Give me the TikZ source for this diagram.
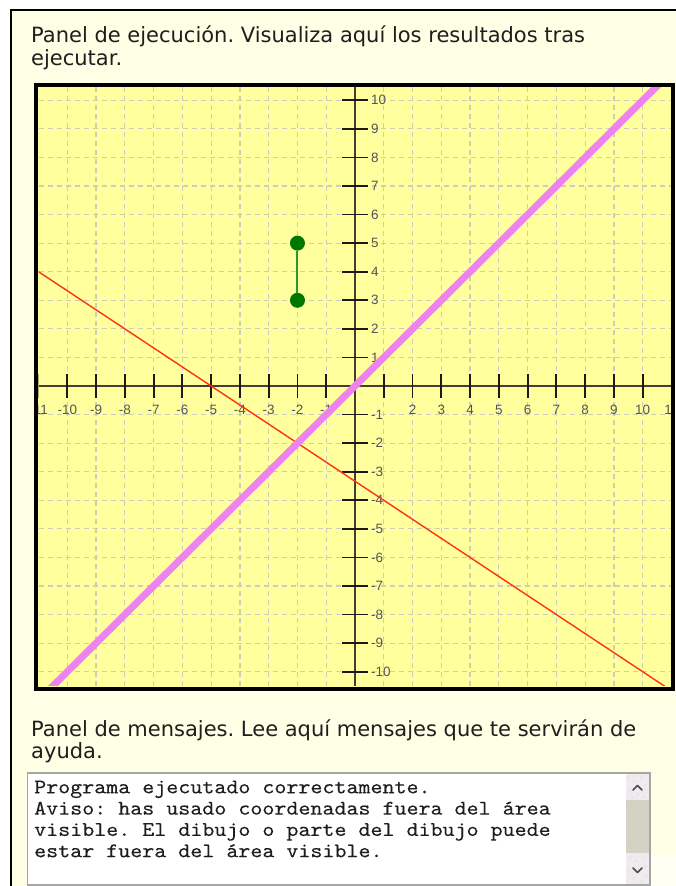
\documentclass[tikz,border=0pt]{standalone}
\usepackage{fontspec}
\setmainfont{DejaVu Sans}
\newfontfamily\axfont{Liberation Sans}
\newfontfamily\msgfont[FakeStretch=1.1,FakeBold=0.12]{lmmono10-regular.otf}
\frenchspacing
\definecolor{cream}{RGB}{255,255,230}
\definecolor{creamlight}{RGB}{255,255,242}
\definecolor{plotbg}{RGB}{255,255,158}
\definecolor{gridc}{RGB}{205,205,190}
\definecolor{axisc}{RGB}{70,62,50}
\definecolor{tickc}{RGB}{30,25,20}
\definecolor{labc}{RGB}{85,85,85}
\definecolor{redc}{RGB}{255,50,20}
\definecolor{pinkc}{RGB}{238,130,238}
\definecolor{greenl}{RGB}{45,150,45}
\definecolor{greend}{RGB}{0,120,0}
\definecolor{txtc}{RGB}{30,30,30}
\definecolor{boxc}{RGB}{165,165,165}
\definecolor{btnc}{RGB}{240,234,238}
\definecolor{thumbc}{RGB}{211,211,196}
\tikzset{
  headtxt/.style={anchor=base west, inner sep=0pt, text=txtc, font=\fontsize{21}{22.7}\selectfont},
  msgtxt/.style={anchor=base west, inner sep=0pt, text=txtc, font=\msgfont\fontsize{20.8}{21.3}\selectfont},
  gridline/.style={draw=gridc, line width=1.2pt, dash pattern=on 5pt off 4pt},
  axisline/.style={draw=axisc, line width=1.8pt},
  tickline/.style={draw=tickc, line width=1.8pt},
  xlab/.style={inner sep=0pt, text=labc, font=\axfont\fontsize{13.5}{14}\selectfont},
  ylab/.style={inner sep=0pt, anchor=west, text=labc, font=\axfont\fontsize{13.5}{14}\selectfont},
  redline/.style={draw=redc, line width=1.4pt},
  pinkline/.style={draw=pinkc, line width=7pt},
  segline/.style={draw=greenl, line width=2pt},
  gdot/.style={circle, fill=greend, minimum size=15pt, inner sep=0pt},
  chev/.style={draw=black!70, line width=1.6pt, line cap=round, line join=round}
}
\begin{document}
\begin{tikzpicture}[x=1pt,y=-1pt]
\useasboundingbox (0,0) rectangle (676,886);
\fill[white] (0,0) rectangle (676,886);
\fill[cream] (11,10) rectangle (676,886);
\fill[creamlight] (650,856) rectangle (676,886);
\draw[black, line width=2pt] (11,886) -- (11,10) -- (676,10);

% header texts
\node[headtxt] (h1) at (31,42.3) {Panel de ejecución. Visualiza aquí los resultados tras};
\node[headtxt] (h2) at (31,65) {ejecutar.};

% plot area
\fill[plotbg] (38,87) rectangle (671,687);
\begin{scope}[shift={(355,386)}, x=28.77pt, y=28.57pt]
  \clip (-11,-10.5) rectangle (11,10.5);
  \foreach \i in {-10,...,10} {
    \draw[gridline] (\i,-10.5) -- (\i,10.5);
    \draw[gridline] (-11,\i) -- (11,\i);
  }
  \draw[axisline] (-11,0) -- (11,0);
  \draw[axisline] (0,-10.5) -- (0,10.5);
  \foreach \i in {-11,...,-1,1,2,...,11} {
    \draw[tickline] (\i,0) ++(0pt,-12pt) -- ++(0pt,24pt);
  }
  \foreach \i in {-10,...,-1,1,2,...,10} {
    \draw[tickline] (0,\i) ++(-13pt,0pt) -- ++(26pt,0pt);
  }
  \foreach \i in {-11,...,-1,2,3,...,11} {
    \node[xlab, yshift=-24pt] (xl\i) at (\i,0) {\i};
  }
  \foreach \i in {-10,...,-1,1,2,...,10} {
    \node[ylab, xshift=16pt] (yl\i) at (0,\i) {\i};
  }
  \coordinate (r1) at (-12,4.6667);
  \coordinate (r2) at (12,-11.3333);
  \draw[redline] (r1) -- (r2);
  \coordinate (p1) at (-12,-12);
  \coordinate (p2) at (12,12);
  \draw[pinkline] (p1) -- (p2);
  \node[gdot] (g1) at (-2,5) {};
  \node[gdot] (g2) at (-2,3) {};
  \draw[segline] (g1) -- (g2);
\end{scope}
\draw[black, line width=4pt] (36,85) rectangle (673,689);

% message panel
\node[headtxt] (m1) at (31,736) {Panel de mensajes. Lee aquí mensajes que te servirán de};
\node[headtxt] (m2) at (31,758.5) {ayuda.};

\draw[boxc, line width=1.2pt, fill=white] (27.5,773) rectangle (650,885);
\fill[btnc] (626,774) rectangle (649,800);
\fill[thumbc] (626,800) rectangle (649,853);
\fill[btnc] (626,853) rectangle (649,884);
\foreach \px/\py in {629/777,634/781,641/778,645/785,630/790,638/794,644/797,632/797,
                     630/857,636/861,643/858,646/866,629/870,634/878,642/881,646/876,
                     631/806,640/812,646/820,633/828,642/836,630/845,645/848,637/843} {
  \fill[black!25] (\px,\py) circle (0.7pt);
}
\draw[chev] (633,790) -- (637.5,785.5) -- (642,790);
\draw[chev] (633,868) -- (637.5,872.5) -- (642,868);

\node[msgtxt] (t1) at (34,793.3) {Programa ejecutado correctamente.};
\node[msgtxt] (t2) at (34,814.6) {Aviso: has usado coordenadas fuera del área};
\node[msgtxt] (t3) at (34,835.9) {visible. El dibujo o parte del dibujo puede};
\node[msgtxt] (t4) at (34,857.2) {estar fuera del área visible.};
\end{tikzpicture}
\end{document}
